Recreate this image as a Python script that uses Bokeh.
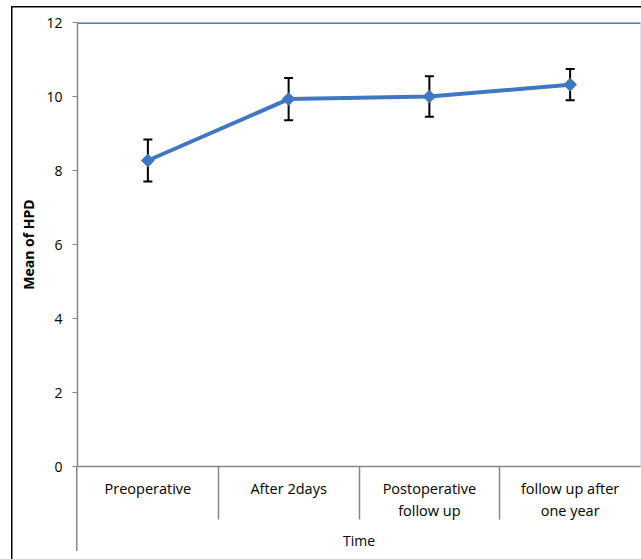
import math
from bokeh.plotting import figure
from bokeh.models import (ColumnDataSource, FixedTicker, Range1d, Whisker, TeeHead, Span)
from bokeh.embed import file_html
from bokeh.resources import INLINE

# ---- data ----
categories = ["Preoperative", "After 2days", "Postoperative\nfollow up", "follow up after\none year"]
means = [8.27, 9.93, 10.0, 10.32]
errors = [0.57, 0.57, 0.55, 0.42]
y_ticks = [0, 2, 4, 6, 8, 10, 12]

x_pos = [i + 0.5 for i in range(len(categories))]
src = ColumnDataSource(dict(
    x=x_pos, y=means,
    upper=[m + e for m, e in zip(means, errors)],
    lower=[m - e for m, e in zip(means, errors)],
))

FONT = "Open Sans"
AXIS_GREY = "#868686"
BLUE = "#3f78c0"

W, H = 641, 559
LEFT, TOP, BOTTOM = 77, 22, 93
frame_bottom = H - BOTTOM

p = figure(width=W, height=H, output_backend="svg", toolbar_location=None,
           x_range=Range1d(0, len(categories)), y_range=Range1d(y_ticks[0], y_ticks[-1]),
           min_border_left=LEFT, min_border_right=1, min_border_top=TOP, min_border_bottom=BOTTOM)
p.background_fill_color = "white"
p.border_fill_color = None
p.outline_line_color = "#dce6f2"

# chart border (left/top) and the downward extension of the value axis line,
# drawn as the plot element's CSS background
p.styles = {"background": (
    f"linear-gradient(#000,#000) 11px 6px / 1.5px 100% no-repeat, "
    f"linear-gradient(#000,#000) 11px 6px / 100% 1.5px no-repeat, "
    f"linear-gradient({AXIS_GREY},{AXIS_GREY}) {LEFT - 1}px {frame_bottom}px / 1.5px 85px no-repeat, "
    f"white")}

# grid: only the top line
p.xgrid.grid_line_color = None
p.ygrid.grid_line_color = None
p.add_layout(Span(location=y_ticks[-1], dimension="width", line_color="#4a7fc4",
                  line_width=3, level="underlay"))

# y axis
p.yaxis.ticker = FixedTicker(ticks=y_ticks)
p.yaxis.axis_label = "Mean of HPD"
p.yaxis.axis_label_text_font = FONT
p.yaxis.axis_label_text_font_style = "bold"
p.yaxis.axis_label_text_font_size = "14px"
p.yaxis.axis_label_text_color = "black"
p.yaxis.axis_label_standoff = 5
p.yaxis.major_label_text_font = FONT
p.yaxis.major_label_text_font_size = "14px"
p.yaxis.major_label_text_color = "black"
p.yaxis.major_label_standoff = 10
p.yaxis.axis_line_color = AXIS_GREY
p.yaxis.axis_line_width = 1.5
p.yaxis.major_tick_line_color = AXIS_GREY
p.yaxis.major_tick_out = 5
p.yaxis.major_tick_in = 0
p.yaxis.minor_tick_line_color = None

# x axis
p.xaxis.ticker = FixedTicker(ticks=x_pos, minor_ticks=list(range(1, len(categories))))
p.xaxis.major_label_overrides = {x: c for x, c in zip(x_pos, categories)}
p.xaxis.axis_label = "Time"
p.xaxis.axis_label_text_font = FONT
p.xaxis.axis_label_text_font_style = "normal"
p.xaxis.axis_label_text_font_size = "14px"
p.xaxis.axis_label_text_color = "black"
p.xaxis.axis_label_standoff = 8
p.xaxis.major_label_text_font = FONT
p.xaxis.major_label_text_font_size = "14.5px"
p.xaxis.major_label_text_color = "black"
p.xaxis.major_label_standoff = -41
p.xaxis.axis_line_color = AXIS_GREY
p.xaxis.axis_line_width = 1.5
p.xaxis.major_tick_line_color = None
p.xaxis.major_tick_out = 0
p.xaxis.major_tick_in = 0
p.xaxis.minor_tick_line_color = AXIS_GREY
p.xaxis.minor_tick_line_width = 1.5
p.xaxis.minor_tick_out = 53
p.xaxis.minor_tick_in = 0

# error bars
p.add_layout(Whisker(source=src, base="x", upper="upper", lower="lower", dimension="height",
                     line_color="black", line_width=2, level="underlay",
                     upper_head=TeeHead(size=9, line_color="black", line_width=2),
                     lower_head=TeeHead(size=9, line_color="black", line_width=2)))

p.line("x", "y", source=src, line_color=BLUE, line_width=4)
p.scatter("x", "y", source=src, marker="square", angle=math.pi / 4, size=9,
          fill_color=BLUE, line_color=BLUE)

open("out.html", "w").write(file_html(p, INLINE))
